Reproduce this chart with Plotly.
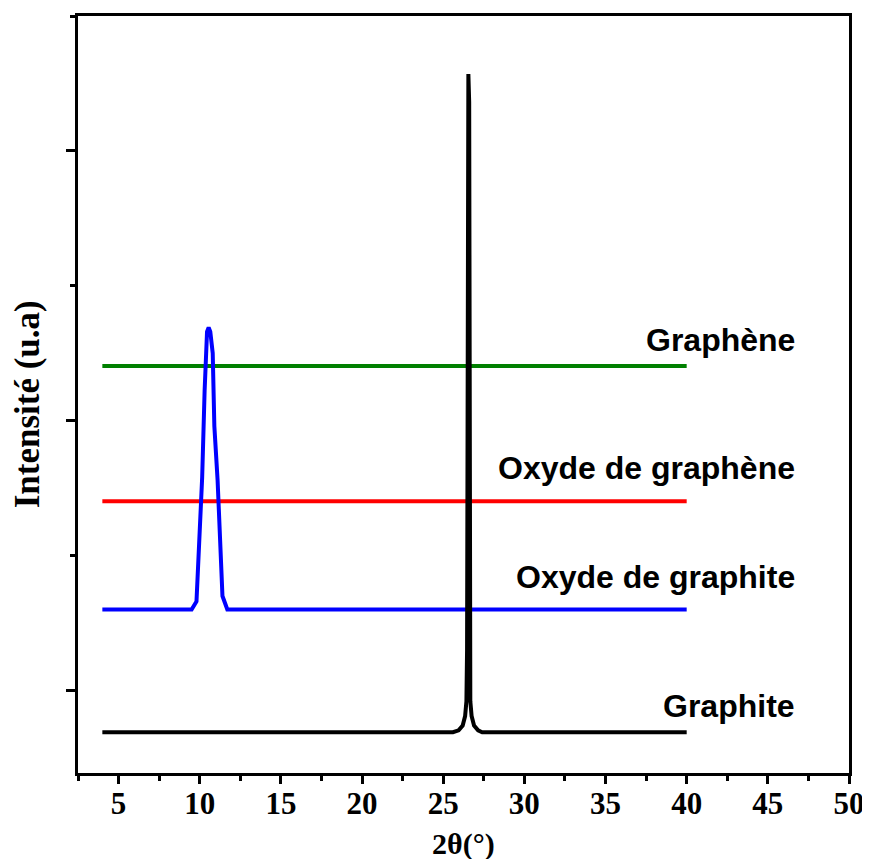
import plotly.graph_objects as go

# ---- data (arbitrary intensity units) ----
graphite_x = [4, 25.6, 25.95, 26.2, 26.35, 26.43, 26.47, 26.5, 26.55, 26.6, 26.63, 26.67, 26.75, 26.9, 27.15, 27.4, 40]
graphite_y = [-155, -155, -148, -130, -95, -40, 150, 2180, 2285, 2180, 150, -40, -95, -130, -148, -155, -155]

oxgraphite_x = [4, 9.5, 9.8, 10.0, 10.15, 10.3, 10.45, 10.55, 10.65, 10.8, 10.9, 11.1, 11.25, 11.4, 11.7, 40]
oxgraphite_y = [300, 300, 330, 570, 790, 1110, 1330, 1345, 1330, 1250, 980, 780, 570, 350, 300, 300]

oxgraphene_x = [4, 40]
oxgraphene_y = [701, 701]

graphene_x = [4, 40]
graphene_y = [1203, 1203]

labels = ["Graphène", "Oxyde de graphène", "Oxyde de graphite", "Graphite"]
label_y = [1299, 826, 421, -59]
label_x = 46.8

x_ticks = [5, 10, 15, 20, 25, 30, 35, 40, 45, 50]

fig = go.Figure()
lw = 4
fig.add_trace(go.Scatter(x=graphene_x, y=graphene_y, mode="lines",
                         line=dict(color="#008000", width=lw), showlegend=False))
fig.add_trace(go.Scatter(x=oxgraphene_x, y=oxgraphene_y, mode="lines",
                         line=dict(color="#FF0000", width=lw), showlegend=False))
fig.add_trace(go.Scatter(x=oxgraphite_x, y=oxgraphite_y, mode="lines",
                         line=dict(color="#0000FF", width=lw), showlegend=False))
fig.add_trace(go.Scatter(x=graphite_x, y=graphite_y, mode="lines",
                         line=dict(color="#000000", width=lw), showlegend=False))

for t, yv in zip(labels, label_y):
    fig.add_annotation(x=label_x, y=yv, xref="x", yref="y", text=f"<b>{t}</b>",
                       showarrow=False, xanchor="right", yanchor="middle",
                       font=dict(family="Liberation Sans", size=32, color="black"))

# axis titles as annotations
fig.add_annotation(x=0.5, y=0, xref="paper", yref="paper", yshift=-71,
                   text="<b>2θ(°)</b>", showarrow=False, xanchor="center", yanchor="middle",
                   font=dict(family="Liberation Serif", size=30, color="black"))
fig.add_annotation(x=0, y=0.487, xref="paper", yref="paper", xshift=-51,
                   text="<b>Intensité (u.a)</b>", showarrow=False, textangle=-90,
                   xanchor="center", yanchor="middle",
                   font=dict(family="Liberation Serif", size=35, color="black"))

fig.update_xaxes(range=[2.5, 50], tickvals=x_ticks, ticktext=[f"<b>{v}</b>" for v in x_ticks],
                 ticks="outside", ticklen=8, tickwidth=3, tickcolor="black",
                 ticklabelstandoff=-7,
                 minor=dict(ticks="outside", ticklen=5, tickwidth=3, tickcolor="black",
                            tick0=2.5, dtick=5),
                 showline=True, linewidth=3, linecolor="black", mirror=True,
                 showgrid=False, zeroline=False,
                 tickfont=dict(family="Liberation Serif", size=31, color="black"))
fig.update_yaxes(range=[-306, 2500], tick0=0, dtick=1000, showticklabels=False,
                 ticks="outside", ticklen=9, tickwidth=3, tickcolor="black",
                 minor=dict(ticks="outside", ticklen=5, tickwidth=3, tickcolor="black",
                            tick0=500, dtick=1000),
                 showline=True, linewidth=3, linecolor="black", mirror=True,
                 showgrid=False, zeroline=False)

# page body has an 8px margin, so the figure is sized/offset to compensate
fig.update_layout(width=862, height=851, margin=dict(l=70, r=21, t=5, b=86),
                  paper_bgcolor="white", plot_bgcolor="white")

fig.write_html("out.html")
